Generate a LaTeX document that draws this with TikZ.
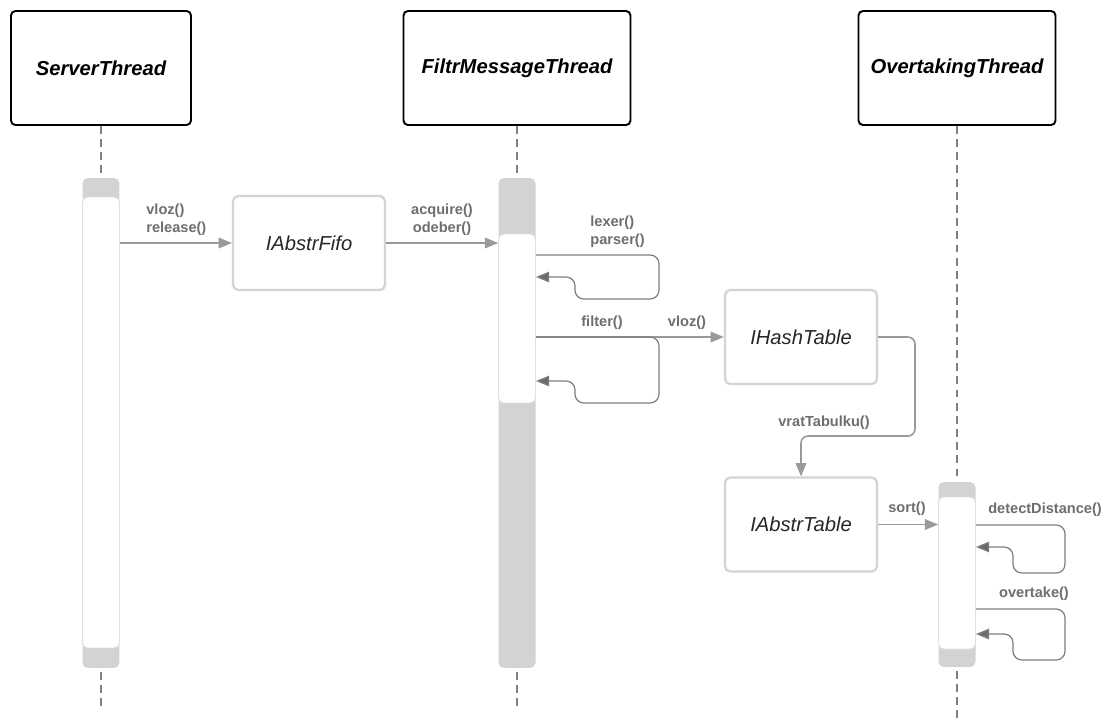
\documentclass[tikz,border=0pt]{standalone}
\usepackage{fontspec}
\setmainfont{Liberation Sans}
\usetikzlibrary{arrows.meta}

\definecolor{actgray}{HTML}{D3D3D5}
\definecolor{boxgray}{HTML}{D4D4D4}
\definecolor{arrowgray}{HTML}{9A9A9A}
\definecolor{loopgray}{HTML}{7E7E7E}
\definecolor{labelgray}{HTML}{6E6E6E}

\begin{document}
\begin{tikzpicture}[x=0.02cm,y=-0.02cm,
    thread/.style={draw=black,line width=1.1pt,rounded corners=2.5pt,fill=white,inner sep=0pt,
      minimum width=#1,minimum height=2.28cm,font=\fontsize{11.5}{13}\selectfont\bfseries\itshape},
    objbox/.style={draw=boxgray,line width=1.3pt,rounded corners=3pt,fill=white,inner sep=0pt,
      minimum width=3.04cm,minimum height=1.88cm,text=black!85,font=\fontsize{11.5}{13}\selectfont\itshape},
    actbar/.style={fill=actgray,rounded corners=3pt,inner sep=0pt,minimum width=0.74cm,minimum height=#1},
    actin/.style={fill=white,draw=black!12,line width=0.5pt,rounded corners=3pt,inner sep=0pt,
      minimum width=0.74cm,minimum height=#1},
    life/.style={draw=black!50,line width=0.6pt,dash pattern=on 4.5pt off 3pt},
    msg/.style={draw=arrowgray,line width=0.9pt,-{Triangle[length=7.5pt,width=6pt]}},
    selfmsg/.style={draw=loopgray,line width=0.7pt,rounded corners=5pt,
      -{Triangle[length=7.5pt,width=6pt,fill=loopgray!85!black]}},
    lbl/.style={text=labelgray,inner sep=0pt,font=\fontsize{8.3}{10.2}\selectfont\bfseries}]

    \useasboundingbox[fill=white] (0,0) rectangle (1112,725);

    % threads
    \node[thread=3.6cm] (srv) at (101,68) {ServerThread};
    \node[thread=4.54cm] (fmt) at (517,68) {FiltrMessageThread};
    \node[thread=3.94cm] (ovt) at (957,68) {OvertakingThread};

    \node[actbar=9.8cm] (srvbar) at (101,423) {};
    \node[actbar=9.8cm] (fmtbar) at (517,423) {};
    \node[actbar=3.7cm] (ovtbar) at (957,574.5) {};

    \coordinate (srvend) at (101,707);
    \coordinate (fmtend) at (517,707);
    \coordinate (ovtend) at (957,723);
    \draw[life] (srv.south) -- (srvbar.north);
    \draw[life] ([yshift=-2pt]srvbar.south) -- (srvend);
    \draw[life] (fmt.south) -- (fmtbar.north);
    \draw[life] ([yshift=-2pt]fmtbar.south) -- (fmtend);
    \draw[life] (ovt.south) -- (ovtbar.north);
    \draw[life] ([yshift=-2pt]ovtbar.south) -- (ovtend);

    \node[actin=9.02cm] (srvin) at (101,422.5) {};
    \node[actin=3.38cm] (fmtin) at (517,318.5) {};
    \node[actin=3.04cm] (ovtin) at (957,573) {};

    % objects
    \node[objbox] (fifo) at (309,243) {IAbstrFifo};
    \node[objbox] (hash) at (801,337) {IHashTable};
    \node[objbox] (table) at (801,524.5) {IAbstrTable};

    % messages
    \draw[msg] (srvin.east |- fifo.west) -- (fifo.west);
    \draw[msg] (fifo.east) -- (fmtbar.west |- fifo.east);
    \draw[msg] (fmtin.east |- hash.west) -- (hash.west);
    \coordinate (vratA) at (915,436);
    \draw[msg,rounded corners=4pt] (hash.east) -| (vratA) -| (table.north);
    \draw[msg] (table.east) -- (ovtbar.west |- table.east);

    % self calls
    \coordinate (lexO) at (659,255);
    \coordinate (lexI) at (575,277);
    \draw[selfmsg] (fmtin.east |- lexO) -- (lexO) -- (659,299) -- (575,299) -- (lexI) -- (fmtin.east |- lexI);
    \coordinate (filO) at (659,337);
    \coordinate (filI) at (575,381);
    \draw[selfmsg] (fmtin.east |- filO) -- (filO) -- (659,403) -- (575,403) -- (filI) -- (fmtin.east |- filI);
    \coordinate (detO) at (1065,525);
    \coordinate (detI) at (1013,547);
    \draw[selfmsg] (ovtin.east |- detO) -- (detO) -- (1065,573) -- (1013,573) -- (detI) -- (ovtin.east |- detI);
    \coordinate (takO) at (1065,609);
    \coordinate (takI) at (1013,634);
    \draw[selfmsg] (ovtin.east |- takO) -- (takO) -- (1065,660) -- (1013,660) -- (takI) -- (ovtin.east |- takI);

    % labels
    \node[lbl,anchor=west,align=left] (vlozlbl) at (146,220) {vloz()\\release()};
    \node[lbl,align=center] (acqlbl) at (442,220) {acquire()\\odeber()};
    \node[lbl,anchor=west,align=left] (lexlbl) at (590,232) {lexer()\\parser()};
    \node[lbl] (fillbl) at (602,323) {filter()};
    \node[lbl] (vlozbl) at (687,323) {vloz()};
    \node[lbl] (vratlbl) at (824,423) {vratTabulku()};
    \node[lbl] (sortlbl) at (907,509) {sort()};
    \node[lbl] (detlbl) at (1045,510) {detectDistance()};
    \node[lbl] (taklbl) at (1034,594) {overtake()};
\end{tikzpicture}
\end{document}
